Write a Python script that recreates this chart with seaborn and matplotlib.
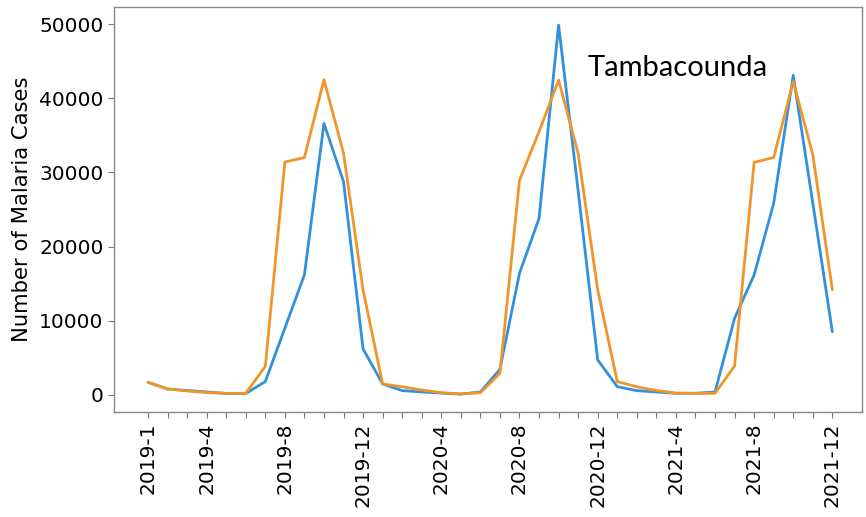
import numpy as np
import pandas as pd
import matplotlib
matplotlib.use("Agg")
import matplotlib.pyplot as plt
import seaborn as sns

# ---- data ----
years = [2019, 2020, 2021]
months = [f"{y}-{m}" for y in years for m in range(1, 13)]
shown_labels = ["2019-1", "2019-4", "2019-8", "2019-12", "2020-4", "2020-8",
                "2020-12", "2021-4", "2021-8", "2021-12"]

observed = [1710, 800, 600, 400, 200, 200, 1800, 9000, 16200, 36600, 28750, 6200,
            1480, 580, 400, 250, 100, 400, 3460, 16400, 23800, 49850, 27500, 4720,
            1120, 580, 400, 220, 220, 400, 10330, 16170, 25830, 43100, 25870, 8530]
predicted = [1710, 810, 540, 310, 220, 220, 3850, 31400, 32000, 42500, 32600, 14150,
             1480, 1100, 670, 300, 150, 300, 2920, 28950, 35500, 42450, 32570, 14150,
             1800, 1100, 600, 250, 220, 220, 3900, 31360, 32000, 42250, 32400, 14200]
series_names = ["Observed", "Predicted"]
region = "Tambacounda"

df = pd.DataFrame({
    "idx": list(range(len(months))) * 2,
    "month": months * 2,
    "cases": observed + predicted,
    "series": [series_names[0]] * len(months) + [series_names[1]] * len(months),
})

sns.set_style("white")
plt.rcParams["font.family"] = ["DejaVu Sans"]
plt.rcParams["text.color"] = "black"
plt.rcParams["axes.labelcolor"] = "black"
plt.rcParams["xtick.color"] = "black"
plt.rcParams["ytick.color"] = "black"

fig = plt.figure(figsize=(8.66, 5.17), dpi=100)
ax = fig.add_axes([0.1316, 0.2031, 0.8634, 0.7834])

sns.lineplot(data=df, x="idx", y="cases", hue="series",
             palette=["#3191de", "#f0952a"], linewidth=2.0, legend=False, ax=ax)

ax.set_xlim(-1.74, 36.5)
ax.set_ylim(-2300, 52300)
ax.set_xticks(range(len(months)))
ax.set_xticklabels([m if m in shown_labels else "" for m in months],
                   rotation=90, fontsize=14.5)
ax.set_yticks([0, 10000, 20000, 30000, 40000, 50000])
ax.tick_params(axis="y", left=True, labelsize=14.5, length=4, width=0.8,
               color="#777777", labelcolor="black")
ax.tick_params(axis="x", bottom=True, length=4, width=0.8,
               color="#777777", labelcolor="black")
ax.set_xlabel("")
ax.set_ylabel("Number of Malaria Cases", fontsize=15.2, color="black", labelpad=5)
for s in ax.spines.values():
    s.set_color("#888888")
    s.set_linewidth(1.0)

fig.text(0.679, 0.868, region, fontsize=21, family=["Lato", "DejaVu Sans"],
         va="center", ha="left", color="black")

fig.savefig("out.png", dpi=100)
